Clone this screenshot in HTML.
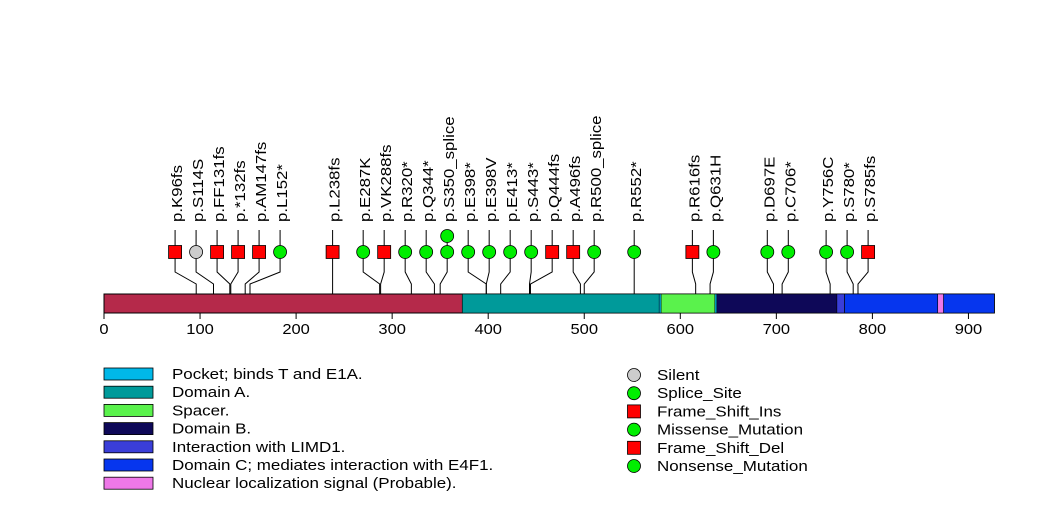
<!DOCTYPE html>
<html><head><meta charset="utf-8"><style>
html,body{margin:0;padding:0;background:#fff;}
svg{display:block;font-family:"Liberation Sans",sans-serif;}
</style></head><body>
<svg id="chart" width="1047" height="524">
<g id="lines"></g>
<g id="bar"></g>
<g id="axis"></g>
<g id="heads"></g>
<g id="labels"></g>
<g id="legend"></g>
</svg>
<script>
const protLen = 927;
const domainNames = ["Pocket; binds T and E1A.","Domain A.","Spacer.","Domain B.","Interaction with LIMD1.","Domain C; mediates interaction with E4F1.","Nuclear localization signal (Probable)."];
const domainColors = ["#00b8e8","#009a9a","#5af24c","#0e0858","#3a3ed8","#0636ee","#ee78e8"];
const domainStart = [373,373,580,638,763,771,868];
const domainEnd = [771,578,636,763,771,927,874];
const mutLabels = ["p.K96fs","p.S114S","p.FF131fs","p.*132fs","p.AM147fs","p.L152*","p.L238fs","p.E287K","p.VK288fs","p.R320*","p.Q344*","p.S350_splice","p.E398*","p.E398V","p.E413*","p.S443*","p.Q444fs","p.A496fs","p.R500_splice","p.R552*","p.R616fs","p.Q631H","p.D697E","p.C706*","p.Y756C","p.S780*","p.S785fs"];
const mutPos = [96,114,131,132,147,152,238,287,288,320,344,350,398,398,413,443,444,496,500,552,616,631,697,706,756,780,785];
const mutType = ["fs","silent","fs","fs","fs","pt","fs","pt","fs","pt","pt","pt","pt","pt","pt","pt","fs","fs","pt","pt","fs","pt","pt","pt","pt","pt","fs"];
const mutCount = [1,1,1,1,1,1,1,1,1,1,1,2,1,1,1,1,1,1,1,1,1,1,1,1,1,1,1];
const tickVals = [0,100,200,300,400,500,600,700,800,900];
const legTypes = ["Silent","Splice_Site","Frame_Shift_Ins","Missense_Mutation","Frame_Shift_Del","Nonsense_Mutation"];
const legShapes = ["silent","pt","fs","pt","fs","pt"];

const NS="http://www.w3.org/2000/svg";
const X0=104, SC=0.9605;
const xs=v=>X0+v*SC;
const barTop=294, barBot=313, headY=252, sp=21;
function mk(tag,attrs,parent){const e=document.createElementNS(NS,tag);for(const k in attrs)e.setAttribute(k,attrs[k]);parent.appendChild(e);return e;}
const gBar=document.getElementById('bar'),gAxis=document.getElementById('axis'),gLines=document.getElementById('lines'),gHeads=document.getElementById('heads'),gLab=document.getElementById('labels'),gLeg=document.getElementById('legend');

let r=mk('rect',{x:xs(0),y:barTop,width:xs(protLen)-xs(0),height:barBot-barTop,fill:'#b5294a',stroke:'#000','stroke-width':1},gBar);

domainStart.forEach((s,i)=>{const d=mk('rect',{x:xs(s),y:barTop,width:xs(domainEnd[i])-xs(s),height:barBot-barTop,fill:domainColors[i],stroke:'#000','stroke-width':0.6},gBar);
});
tickVals.forEach(v=>{mk('line',{x1:xs(v),x2:xs(v),y1:barBot,y2:barBot+6,stroke:'#000'},gAxis);
const t=mk('text',{transform:`translate(${xs(v)},334) scale(1.1,1)`,'text-anchor':'middle','font-size':15},gAxis);t.textContent=v;
});

let groups=mutPos.map((p,i)=>({idx:[i],c:xs(p)}));
let changed=true;
while(changed){changed=false;
 for(let i=0;i<groups.length-1;i++){const a=groups[i],b=groups[i+1];
  const aR=a.c+(a.idx.length-1)*sp/2, bL=b.c-(b.idx.length-1)*sp/2;
  if(bL-aR<sp-0.01){const idx=a.idx.concat(b.idx);const c=idx.reduce((s,k)=>s+xs(mutPos[k]),0)/idx.length;
   groups.splice(i,2,{idx,c});changed=true;break;}}}
const hx=[];groups.forEach(g=>{g.idx.forEach((k,j)=>{hx[k]=g.c+(j-(g.idx.length-1)/2)*sp;});});

function shape(type,x,y,parent){
 let e;
 if(type==='fs') e=mk('rect',{x:x-6.5,y:y-6.5,width:13,height:13,fill:'#ff0000',stroke:'#000','stroke-width':0.8},parent);
 else e=mk('circle',{cx:x,cy:y,r:6.5,fill:type==='silent'?'#cccccc':'#00ee00',stroke:'#000','stroke-width':0.8},parent);
 return e;}
mutPos.forEach((p,i)=>{
 const px=xs(p),h=hx[i];
 const pl=mk('polyline',{points:`${h},230 ${h},272 ${px},284 ${px},${barBot}`,fill:'none',stroke:'#000','stroke-width':1},gLines);
 
 for(let c=0;c<mutCount[i];c++){const s=shape(mutType[i],h,headY-c*16,gHeads);
  }
 const t=mk('text',{transform:`translate(${h+7},222) rotate(-90) scale(1.16,1)`,'font-size':14.5},gLab);
 t.textContent=mutLabels[i];
 
});
domainNames.forEach((n,i)=>{const y=374+i*18.2;
 const b=mk('rect',{x:104,y:y-6,width:49,height:12,fill:domainColors[i],stroke:'#000','stroke-width':0.8},gLeg);
 
 const t=mk('text',{transform:`translate(172,${y+5}) scale(1.17,1)`,'font-size':14.5},gLeg);t.textContent=n;
 });
legTypes.forEach((n,i)=>{const y=375+i*18.2;
 const s=shape(legShapes[i],634,y,gLeg);
 const t=mk('text',{transform:`translate(657,${y+5}) scale(1.17,1)`,'font-size':14.5},gLeg);t.textContent=n;
 });
</script>
</body></html>
